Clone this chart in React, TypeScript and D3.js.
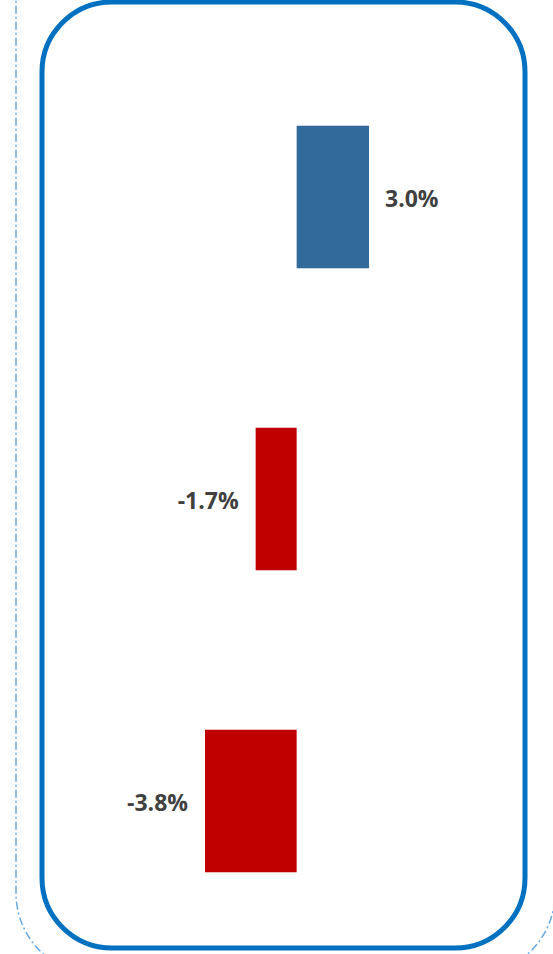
import React from "react";
import * as d3 from "d3";

const categories = ["Item 1", "Item 2", "Item 3"];
const values = [3.0, -1.7, -3.8];
const labels = ["3.0%", "-1.7%", "-3.8%"];

const W = 553;
const H = 954;

export default function App() {
  const x = d3.scaleLinear().domain([-3.8, 3.0]).range([205, 369]);
  const y = d3
    .scaleBand<string>()
    .domain(categories)
    .range([46, 952])
    .paddingInner(0.528)
    .paddingOuter(0.264);

  return (
    <svg
      width={W}
      height={H}
      style={{ position: "fixed", left: 0, top: 0, background: "#fff" }}
    >
      <rect
        x={16}
        y={-150}
        width={539}
        height={1125}
        rx={82}
        ry={82}
        fill="none"
        stroke="#6AA9DE"
        strokeWidth={1.5}
        strokeDasharray="8 3 2 3"
      />
      <rect
        x={42}
        y={2}
        width={483}
        height={946}
        rx={70}
        ry={70}
        fill="none"
        stroke="#0070C0"
        strokeWidth={5}
      />
      {categories.map((c, i) => {
        const v = values[i];
        const x0 = x(Math.min(0, v));
        const x1 = x(Math.max(0, v));
        const yy = y(c)!;
        const bw = y.bandwidth();
        const pos = v >= 0;
        return (
          <g key={c}>
            <rect
              x={x0}
              y={yy}
              width={x1 - x0}
              height={bw}
              fill={pos ? "#336A9C" : "#C00000"}
            />
            <text
              x={pos ? x1 + 16 : x0 - 17}
              y={yy + bw / 2 + 1.5}
              dy="0.35em"
              textAnchor={pos ? "start" : "end"}
              fontFamily="'Open Sans', sans-serif"
              fontWeight="bold"
              fontSize={23}
              fill="#404040"
            >
              {labels[i]}
            </text>
          </g>
        );
      })}
    </svg>
  );
}
